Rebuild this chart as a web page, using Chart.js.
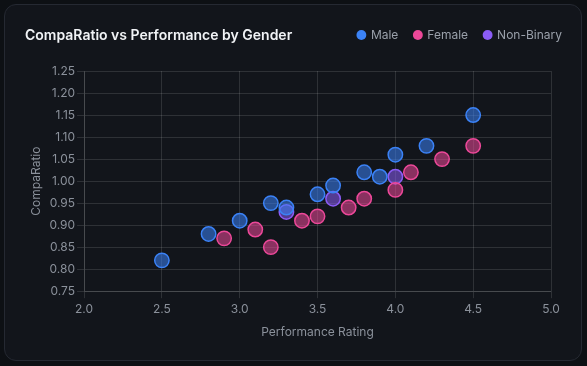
<!DOCTYPE html>
<html>
<head>
<meta charset="utf-8">
<script src="https://cdn.jsdelivr.net/npm/chart.js@4.4.1/dist/chart.umd.min.js"></script>
<style>
  html, body { margin: 0; padding: 0; background: #0d1014; width: 587px; height: 366px; overflow: hidden; }
  .card { position: absolute; left: 4px; top: 4px; width: 576px; height: 355px; background: #12151b; border: 1px solid #252932; border-radius: 12px; }
  .title { position: absolute; left: 20px; top: 21px; font-family: Inter, "Noto Sans", sans-serif; font-weight: 600; font-size: 14px; color: #f1f3f6; letter-spacing: 0; }
  .wrap { position: absolute; left: 0; top: 0; width: 576px; height: 355px; }
</style>
</head>
<body>
<div class="card">
  <div class="wrap"><canvas id="c"></canvas></div>
  <div class="title">CompaRatio vs Performance by Gender</div>
</div>
<script>
const seriesNames = ["Male", "Female", "Non-Binary"];
const maleX = [2.5, 2.8, 3.0, 3.2, 3.3, 3.5, 3.6, 3.8, 3.9, 4.0, 4.2, 4.5];
const maleY = [0.82, 0.88, 0.91, 0.95, 0.94, 0.97, 0.99, 1.02, 1.01, 1.06, 1.08, 1.15];
const femaleX = [2.9, 3.1, 3.2, 3.4, 3.5, 3.7, 3.8, 4.0, 4.1, 4.3, 4.5];
const femaleY = [0.87, 0.89, 0.85, 0.91, 0.92, 0.94, 0.96, 0.98, 1.02, 1.05, 1.08];
const nonBinaryX = [3.3, 3.6, 4.0];
const nonBinaryY = [0.93, 0.96, 1.01];
const xTitle = "Performance Rating";
const yTitle = "CompaRatio";

const pts = (xs, ys) => xs.map((x, i) => ({ x: x, y: ys[i] }));
const colors = [
  { line: "#3b82f6", fill: "rgba(59,130,246,0.55)" },
  { line: "#ec4899", fill: "rgba(236,72,153,0.55)" },
  { line: "#8b5cf6", fill: "rgba(139,92,246,0.55)" }
];
const data = [pts(maleX, maleY), pts(femaleX, femaleY), pts(nonBinaryX, nonBinaryY)];

const legendGap = {
  id: "legendGap",
  beforeInit(chart) {
    const orig = chart.legend.fit;
    chart.legend.fit = function () { orig.call(this); this.height += 20; };
  }
};

const font = "Inter, 'Noto Sans', sans-serif";
new Chart(document.getElementById("c"), {
  type: "scatter",
  plugins: [legendGap],
  data: {
    datasets: seriesNames.map((n, i) => ({
      label: n,
      data: data[i],
      backgroundColor: colors[i].fill,
      borderColor: colors[i].line,
      borderWidth: 1.5,
      pointRadius: 7.2,
      pointHoverRadius: 8,
      yAxisID: "y"
    }))
  },
  options: {
    responsive: true,
    maintainAspectRatio: false,
    animation: false,
    layout: { padding: { left: 20, right: 3, top: 8, bottom: 16 } },
    plugins: {
      legend: {
        position: "top",
        align: "end",
        labels: {
          usePointStyle: true,
          pointStyle: "circle",
          boxWidth: 7,
          boxHeight: 7,
          padding: 16,
          color: "#9aa0aa",
          font: { family: font, size: 12 },
          generateLabels: (chart) => chart.data.datasets.map((d, i) => ({
            text: d.label,
            fillStyle: colors[i].line,
            strokeStyle: colors[i].line,
            lineWidth: 0,
            pointStyle: "circle",
            fontColor: "#9aa0aa",
            datasetIndex: i,
            hidden: false
          }))
        }
      },
      tooltip: { enabled: false }
    },
    scales: {
      x: {
        type: "linear",
        min: 2.0,
        max: 5.0,
        ticks: { stepSize: 0.5, color: "#8b919b", font: { family: font, size: 12 }, callback: v => v.toFixed(1), padding: 4 },
        grid: { color: "rgba(255,255,255,0.12)", tickLength: 7 },
        border: { color: "rgba(255,255,255,0.12)" },
        title: { display: true, text: xTitle, color: "#8b919b", font: { family: font, size: 12 }, padding: { top: 5 } }
      },
      y: {
        min: 0.75,
        max: 1.25,
        ticks: { stepSize: 0.05, color: "#8b919b", font: { family: font, size: 12 }, callback: v => v.toFixed(2), padding: 2 },
        grid: { color: "rgba(255,255,255,0.12)", tickLength: 7 },
        border: { color: "rgba(255,255,255,0.12)" },
        title: { display: true, text: yTitle, color: "#8b919b", font: { family: font, size: 12 }, padding: { bottom: 4 } }
      },
      yRight: {
        position: "right",
        min: 0.75,
        max: 1.25,
        grid: { display: false, drawTicks: false },
        border: { display: false },
        ticks: { display: false },
        afterFit: (s) => { s.width = 27; }
      }
    }
  }
});
</script>
</body>
</html>
